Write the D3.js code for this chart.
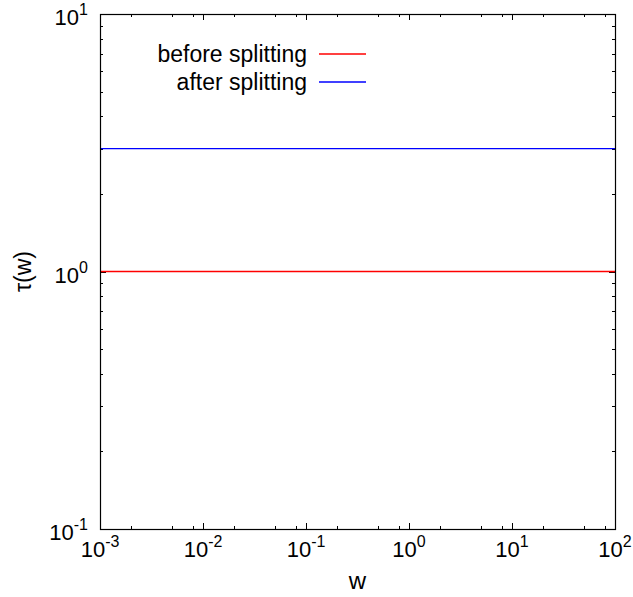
<!DOCTYPE html>
<html>
<head>
<meta charset="utf-8">
<script src="https://cdn.jsdelivr.net/npm/d3@7"></script>
<style>
  html, body { margin: 0; padding: 0; background: #fff; }
  svg { display: block; font-family: "Liberation Sans", Arial, Helvetica, sans-serif; }
</style>
</head>
<body>
<svg id="chart" width="633" height="597"></svg>
<script>
// Relaxation time tau(w) before and after splitting
const wValues = [1e-3, 1e2];
const tauBefore = [1.0, 1.0];
const tauAfter = [3.0, 3.0];
const seriesNames = ["before splitting", "after splitting"];
const seriesColors = ["#ff0000", "#0000ff"];
const xDomain = [1e-3, 1e2];
const yDomain = [1e-1, 1e1];
const xMajorExps = [-3, -2, -1, 0, 1, 2];
const yMajorExps = [-1, 0, 1];
const xMinorMult = [2, 5, 8];
const yMinorMult = [2, 3, 4, 5, 6, 7, 8, 9];
const xLabel = "w";
const yLabel = "τ(w)";

const series = [
  { name: seriesNames[0], color: seriesColors[0], values: tauBefore },
  { name: seriesNames[1], color: seriesColors[1], values: tauAfter }
];

const margin = { left: 100, right: 18, top: 14, bottom: 68 };
const W = 633, H = 597;
const x0 = margin.left, x1 = W - margin.right;
const y0 = H - margin.bottom, y1 = margin.top;

const svg = d3.select("#chart");
const x = d3.scaleLog().domain(xDomain).range([x0, x1]);
const y = d3.scaleLog().domain(yDomain).range([y0, y1]);

const majorLen = 6, minorLen = 3;

// minor and major tick values
const xMinor = [];
xMajorExps.slice(0, -1).forEach(e => xMinorMult.forEach(m => xMinor.push(m * Math.pow(10, e))));
const yMinor = [];
yMajorExps.slice(0, -1).forEach(e => yMinorMult.forEach(m => yMinor.push(m * Math.pow(10, e))));
const xMajor = xMajorExps.map(e => Math.pow(10, e));
const yMajor = yMajorExps.map(e => Math.pow(10, e));

// ticks (inward, mirrored on all sides)
const tickG = svg.append("g").attr("stroke", "#000").attr("stroke-width", 1).attr("shape-rendering", "crispEdges");
function xTicks(vals, len) {
  vals.forEach(v => {
    const px = Math.round(x(v)) + 0.5;
    tickG.append("line").attr("x1", px).attr("x2", px).attr("y1", y0).attr("y2", y0 - len);
    tickG.append("line").attr("x1", px).attr("x2", px).attr("y1", y1).attr("y2", y1 + len);
  });
}
function yTicks(vals, len) {
  vals.forEach(v => {
    const py = Math.round(y(v)) + 0.5;
    tickG.append("line").attr("y1", py).attr("y2", py).attr("x1", x0).attr("x2", x0 + len);
    tickG.append("line").attr("y1", py).attr("y2", py).attr("x1", x1).attr("x2", x1 - len);
  });
}
xTicks(xMinor, minorLen);
xTicks(xMajor, majorLen);
yTicks(yMinor, minorLen);
yTicks(yMajor, majorLen);

// data lines
const line = d3.line().x((d, i) => x(wValues[i])).y(d => y(d));
const plot = svg.append("g");
series.forEach(s => {
  plot.append("path")
    .datum(s.values)
    .attr("d", line)
    .attr("fill", "none")
    .attr("stroke", s.color)
    .attr("stroke-width", 1.3);
});

// frame
svg.append("rect")
  .attr("x", x0 + 0.5).attr("y", y1 + 0.5)
  .attr("width", x1 - x0).attr("height", y0 - y1)
  .attr("fill", "none").attr("stroke", "#000").attr("stroke-width", 1.2);

// tick labels as 10 with superscript exponent
function powLabel(g, px, py, exp, anchor) {
  const t = g.append("text")
    .attr("x", px).attr("y", py)
    .attr("text-anchor", anchor)
    .attr("font-size", 22)
    .attr("fill", "#000");
  t.append("tspan").text("10");
  t.append("tspan").attr("dy", -10).attr("font-size", 16).text(exp);
}
const labels = svg.append("g");
xMajorExps.forEach(e => powLabel(labels, x(Math.pow(10, e)), y0 + 28, String(e), "middle"));
yMajorExps.forEach(e => powLabel(labels, x0 - 12, y(Math.pow(10, e)) + 11, String(e), "end"));

// axis titles
svg.append("text")
  .attr("x", (x0 + x1) / 2).attr("y", 589)
  .attr("text-anchor", "middle").attr("font-size", 24)
  .text(xLabel);
svg.append("text")
  .attr("transform", `translate(31, ${(y0 + y1) / 2}) rotate(-90)`)
  .attr("text-anchor", "middle").attr("font-size", 23)
  .text(yLabel);

// legend
const legend = svg.append("g");
series.forEach((s, i) => {
  const ly = 54 + i * 28;
  legend.append("text")
    .attr("x", 307).attr("y", ly + 8)
    .attr("text-anchor", "end").attr("font-size", 23)
    .text(s.name);
  legend.append("line")
    .attr("x1", 319).attr("x2", 366)
    .attr("y1", ly).attr("y2", ly)
    .attr("stroke", s.color).attr("stroke-width", 1.3);
});
</script>
</body>
</html>
